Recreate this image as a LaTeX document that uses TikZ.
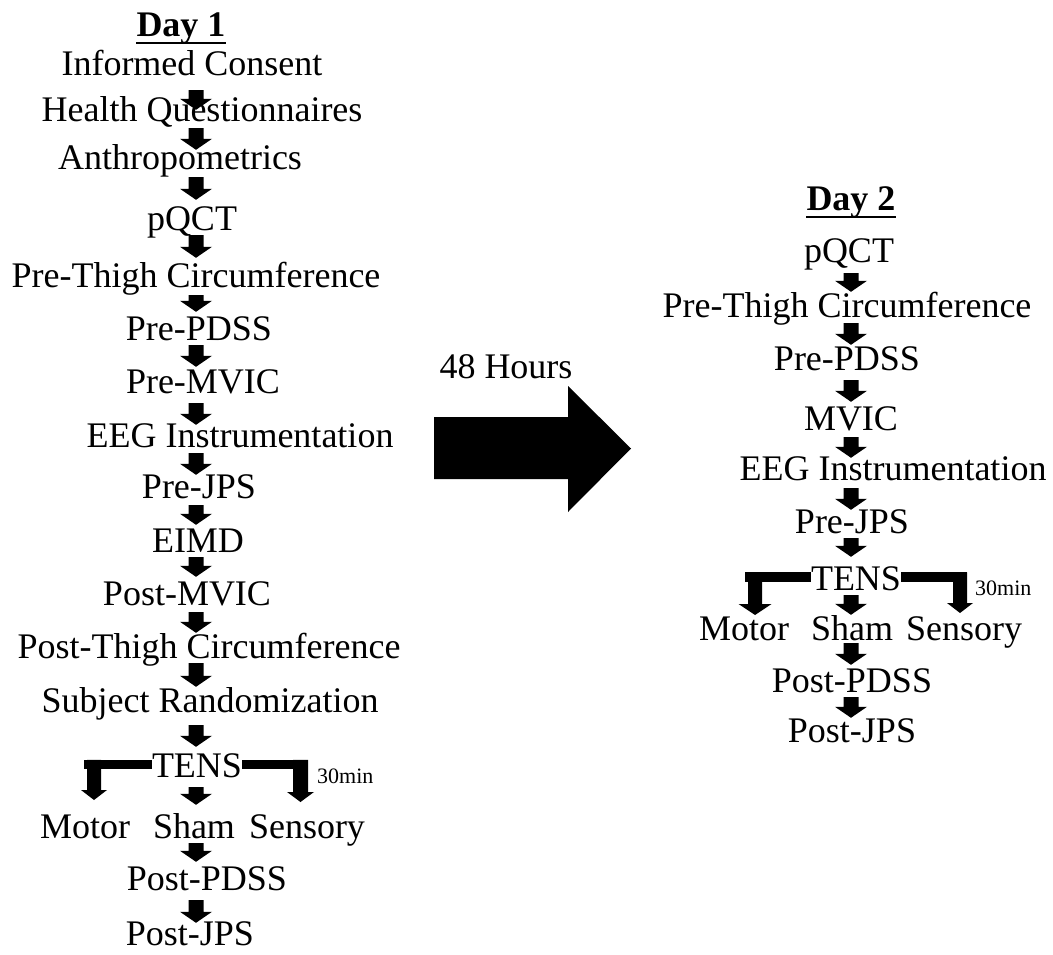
\documentclass[tikz,border=0pt]{standalone}
\usepackage{fontspec}
\setmainfont{Liberation Serif}
\usetikzlibrary{calc}
\begin{document}
\begin{tikzpicture}[x=1pt,y=-1pt,
  txt/.style={font=\fontsize{36}{40}\selectfont, inner sep=0pt, anchor=base, text height=24pt, text depth=8pt},
  head/.style={txt, font=\fontsize{36}{40}\selectfont\bfseries},
  small/.style={font=\fontsize{22}{26}\selectfont, inner sep=0pt, anchor=base west},
  hbar/.style={line width=9.5pt},
  ul/.style={line width=2pt},
  barrow/.style n args={5}{to path={
    ($(\tikztostart)+(-#3,0pt)+(0pt,-#1)$)
    -- ($(\tikztotarget)+(-#3,#5)+(0pt,-#2)$)
    -- ($(\tikztotarget)+(-#4,#5)+(0pt,-#2)$)
    -- ($(\tikztotarget)+(0pt,-#2)$)
    -- ($(\tikztotarget)+(#4,#5)+(0pt,-#2)$)
    -- ($(\tikztotarget)+(#3,#5)+(0pt,-#2)$)
    -- ($(\tikztostart)+(#3,0pt)+(0pt,-#1)$) -- cycle}},
  va/.style 2 args={barrow={#1}{#2}{7.5pt}{16pt}{11pt}}
]
\useasboundingbox (0,0) rectangle (1053,955);
\coordinate (colA) at (196,0);
\coordinate (colB) at (851,0);

% ---------------- Day 1 ----------------
\node[head] (day1) at (181,37) {Day 1};
\draw[ul] ([yshift=-6pt]day1.base west) -- ([yshift=-6pt]day1.base east);
\node[txt] (ic) at (192,76) {Informed Consent};
\node[txt] (hq) at (202,122) {Health Questionnaires};
\node[txt] (an) at (180,170) {Anthropometrics};
\node[txt] (pq1) at (192,230) {pQCT};
\node[txt] (pt1) at (196,287) {Pre-Thigh Circumference};
\node[txt] (pp1) at (199,340) {Pre-PDSS};
\node[txt] (pm1) at (203,393) {Pre-MVIC};
\node[txt] (eeg1) at (240,447) {EEG Instrumentation};
\node[txt] (pj1) at (199,498) {Pre-JPS};
\node[txt] (eimd) at (198,552) {EIMD};
\node[txt] (qm1) at (187,605) {Post-MVIC};
\node[txt] (qt1) at (209,658) {Post-Thigh Circumference};
\node[txt] (sr) at (210,712) {Subject Randomization};
\node[txt] (tens1) at (197,777) {TENS};
\node[small] (min1) at (317,783) {30min};
\node[txt] (motor1) at (85,838) {Motor};
\node[txt] (sham1) at (194,838) {Sham};
\node[txt] (sens1) at (307,838) {Sensory};
\node[txt] (qp1) at (207,890) {Post-PDSS};
\node[txt] (qj1) at (190,945) {Post-JPS};

\fill (ic.south -| colA) to[va={6pt}{12pt}] (hq.north -| colA);
\fill (hq.south -| colA) to[va={-2pt}{4pt}] (an.north -| colA);
\fill (an.south -| colA) to[va={-1pt}{-6pt}] (pq1.north -| colA);
\fill (pq1.south -| colA) to[va={-3pt}{-5pt}] (pt1.north -| colA);
\fill (pt1.south -| colA) to[va={0pt}{-4pt}] (pp1.north -| colA);
\fill (pp1.south -| colA) to[va={-3pt}{-2pt}] (pm1.north -| colA);
\fill (pm1.south -| colA) to[va={2pt}{2pt}] (eeg1.north -| colA);
\fill (eeg1.south -| colA) to[va={-2pt}{1pt}] (pj1.north -| colA);
\fill (pj1.south -| colA) to[va={-1pt}{-3pt}] (eimd.north -| colA);
\fill (eimd.south -| colA) to[va={-3pt}{-4pt}] (qm1.north -| colA);
\fill (qm1.south -| colA) to[va={-1pt}{-1pt}] (qt1.north -| colA);
\fill (qt1.south -| colA) to[va={-3pt}{-1pt}] (sr.north -| colA);
\fill (sr.south -| colA) to[va={5pt}{-6pt}] (tens1.north -| colA);
\fill (tens1.south -| colA) to[va={2pt}{-9pt}] (sham1.north -| colA);
\fill (sham1.south -| colA) to[va={-3pt}{-4pt}] (qp1.north -| colA);
\fill (qp1.south -| colA) to[va={2pt}{2pt}] (qj1.north -| colA);

\coordinate (l1c) at (94,764.5);
\coordinate (l1t) at (94,800);
\coordinate (r1c) at (300.5,764.5);
\coordinate (r1t) at (300.5,802);
\draw[hbar] (tens1.west |- l1c) -- ([xshift=-10pt]l1c);
\fill (l1c) to[barrow={-4.75pt}{0pt}{7pt}{13pt}{10pt}] (l1t);
\draw[hbar] (tens1.east |- r1c) -- ([xshift=7pt]r1c);
\fill (r1c) to[barrow={-4.75pt}{0pt}{7.5pt}{13.5pt}{10pt}] (r1t);

% ---------------- 48 hours ----------------
\node[txt] (hours) at (506,378) {48 Hours};
\fill (434,417) -- (568,417) -- (568,386) -- (631,448.5) -- (568,512) -- (568,479) -- (434,479) -- cycle;

% ---------------- Day 2 ----------------
\node[head] (day2) at (851,211) {Day 2};
\draw[ul] ([yshift=-6pt]day2.base west) -- ([yshift=-6pt]day2.base east);
\node[txt] (pq2) at (849,262) {pQCT};
\node[txt] (pt2) at (847,317) {Pre-Thigh Circumference};
\node[txt] (pp2) at (847,370) {Pre-PDSS};
\node[txt] (mv2) at (851,430) {MVIC};
\node[txt] (eeg2) at (893,480) {EEG Instrumentation};
\node[txt] (pj2) at (852,533) {Pre-JPS};
\node[txt] (tens2) at (856,590) {TENS};
\node[small] (min2) at (975,595) {30min};
\node[txt] (motor2) at (744,640) {Motor};
\node[txt] (sham2) at (852,640) {Sham};
\node[txt] (sens2) at (964,640) {Sensory};
\node[txt] (qp2) at (852,692) {Post-PDSS};
\node[txt] (qj2) at (852,742) {Post-JPS};

\fill (pq2.south -| colB) to[va={3pt}{-1pt}] (pt2.north -| colB);
\fill (pt2.south -| colB) to[va={-2pt}{-1pt}] (pp2.north -| colB);
\fill (pp2.south -| colB) to[va={2pt}{-4pt}] (mv2.north -| colB);
\fill (mv2.south -| colB) to[va={-1pt}{2pt}] (eeg2.north -| colB);
\fill (eeg2.south -| colB) to[va={0pt}{1pt}] (pj2.north -| colB);
\fill (pj2.south -| colB) to[va={-3pt}{-9pt}] (tens2.north -| colB);
\fill (tens2.south -| colB) to[va={-3pt}{-1pt}] (sham2.north -| colB);
\fill (sham2.south -| colB) to[va={-5pt}{-3pt}] (qp2.north -| colB);
\fill (qp2.south -| colB) to[va={-3pt}{0pt}] (qj2.north -| colB);

\coordinate (l2c) at (755,577);
\coordinate (l2t) at (755,615);
\coordinate (r2c) at (960,577);
\coordinate (r2t) at (960,613);
\draw[hbar] (tens2.west |- l2c) -- ([xshift=-10pt]l2c);
\fill (l2c) to[barrow={-4.75pt}{0pt}{7pt}{16.5pt}{11pt}] (l2t);
\draw[hbar] (tens2.east |- r2c) -- ([xshift=7pt]r2c);
\fill (r2c) to[barrow={-4.75pt}{0pt}{7pt}{13pt}{10pt}] (r2t);
\end{tikzpicture}
\end{document}
